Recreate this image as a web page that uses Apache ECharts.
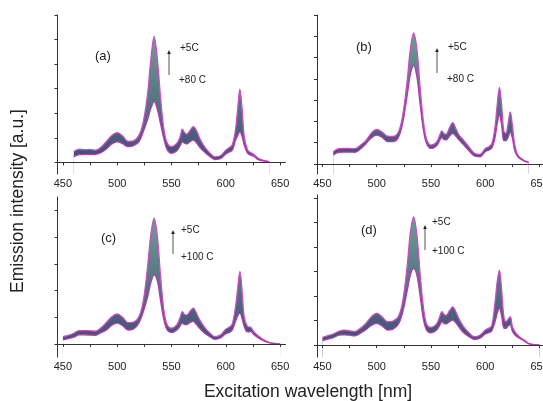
<!DOCTYPE html>
<html>
<head>
<meta charset="utf-8">
<script src="https://cdn.jsdelivr.net/npm/echarts@6/dist/echarts.min.js"></script>
<style>
  html, body { margin: 0; padding: 0; background: #fff; }
  #chart { width: 543px; height: 401px; }
</style>
</head>
<body>
<div id="chart"></div>
<script>
// wavelengths (nm) and envelope curves (5C = top, hottest = bottom), in tick units
var wlA = [460,465,470,475,480,485,490,495,500,505,510,515,520,524,528,531,534,537,540,543,546,550,555,558,560,562,564,567,570,573,576,580,585,590,595,600,603,606,609,611,613,615,617,620,623,626,630,635,640];
var topA = [0.44,0.54,0.52,0.53,0.50,0.62,0.85,1.10,1.21,1.08,0.86,0.88,1.10,1.65,2.8,4.2,5.13,4.2,2.6,1.35,0.80,0.64,0.78,1.05,1.35,1.22,1.15,1.30,1.46,1.30,0.98,0.66,0.40,0.23,0.27,0.50,0.60,0.72,1.35,2.2,2.98,2.2,1.05,0.52,0.40,0.32,0.17,0.08,0.03];
var botA = [0.23,0.32,0.33,0.33,0.33,0.40,0.55,0.75,0.84,0.76,0.64,0.68,0.84,1.25,1.75,2.2,2.48,2.15,1.55,0.95,0.52,0.37,0.48,0.68,0.84,0.78,0.75,0.84,0.91,0.80,0.62,0.44,0.25,0.12,0.15,0.34,0.42,0.50,0.90,1.10,1.25,1.05,0.70,0.38,0.30,0.24,0.11,0.05,0.01];

var wlB = [460,465,470,475,480,485,490,495,500,505,510,515,520,524,528,531,534,537,540,543,546,550,555,558,560,562,564,567,570,573,576,580,585,590,595,600,603,606,609,611,613,615,617,619,621,623,625,627,630,635,640];
var topB = [0.58,0.72,0.73,0.73,0.72,0.88,1.10,1.45,1.62,1.50,1.31,1.30,1.50,2.3,3.9,5.4,6.16,5.4,3.6,2.0,1.15,0.89,1.02,1.35,1.56,1.42,1.40,1.70,1.94,1.65,1.35,1.12,0.80,0.50,0.45,0.73,0.80,0.95,1.75,2.8,3.6,2.8,1.55,1.45,1.9,2.45,1.8,0.95,0.42,0.19,0.08];
var botB = [0.42,0.55,0.56,0.56,0.55,0.70,0.95,1.22,1.36,1.25,1.05,1.05,1.25,1.95,3.2,4.2,4.64,4.1,2.8,1.6,0.95,0.73,0.85,1.10,1.25,1.15,1.14,1.30,1.44,1.30,1.12,0.90,0.62,0.375,0.34,0.58,0.65,0.75,1.25,1.9,2.3,1.85,1.10,1.10,1.25,1.50,1.20,0.65,0.34,0.16,0.06];

var wlC = [450,455,460,465,470,475,480,485,490,495,500,505,510,515,520,524,528,531,534,537,540,543,546,550,555,558,560,562,564,567,570,573,576,580,585,590,595,600,603,606,609,611,613,615,617,620,623,626,630,635,640,645,650];
var topC = [0.27,0.32,0.40,0.50,0.50,0.49,0.48,0.60,0.80,1.02,1.12,1.00,0.80,0.82,1.02,1.60,2.9,4.1,4.71,4.0,2.5,1.25,0.72,0.59,0.72,1.00,1.21,1.10,1.08,1.22,1.34,1.15,0.90,0.65,0.42,0.27,0.33,0.55,0.62,0.75,1.40,2.1,2.71,2.0,1.00,0.65,0.62,0.45,0.30,0.15,0.06,0.02,0.0];
var botC = [0.15,0.20,0.25,0.34,0.34,0.33,0.32,0.42,0.52,0.70,0.78,0.68,0.52,0.56,0.78,1.20,1.75,2.3,2.59,2.35,1.6,0.90,0.52,0.42,0.52,0.68,0.78,0.72,0.72,0.80,0.84,0.72,0.58,0.42,0.28,0.17,0.22,0.38,0.42,0.52,0.85,1.05,1.15,0.95,0.65,0.45,0.46,0.34,0.22,0.11,0.04,0.01,-0.01];

var wlD = [450,455,460,465,470,475,480,485,490,495,500,505,510,515,520,524,528,531,534,537,540,543,546,550,555,558,560,562,564,567,570,573,576,580,585,590,595,600,603,606,609,611,613,615,617,619,621,623,625,628,632,636,640,645,650];
var topD = [0.31,0.38,0.45,0.56,0.61,0.58,0.55,0.68,0.88,1.15,1.29,1.15,0.95,0.98,1.16,1.80,3.2,4.6,5.24,4.5,2.9,1.55,0.85,0.72,0.85,1.15,1.36,1.25,1.22,1.40,1.56,1.35,1.05,0.75,0.50,0.34,0.40,0.61,0.68,0.80,1.75,2.6,3.06,2.3,1.20,0.95,1.05,1.16,0.75,0.50,0.32,0.20,0.07,0.02,0.0];
var botD = [0.18,0.24,0.30,0.40,0.42,0.40,0.37,0.48,0.62,0.80,0.88,0.78,0.61,0.65,0.85,1.35,2.2,2.85,3.13,2.85,2.0,1.05,0.60,0.50,0.60,0.80,0.95,0.88,0.86,0.95,1.02,0.90,0.72,0.50,0.34,0.23,0.28,0.45,0.50,0.58,0.95,1.30,1.50,1.20,0.70,0.68,0.78,0.82,0.55,0.38,0.26,0.16,0.05,0.01,-0.01];

var xLabels = [450, 500, 550, 600, 650];
var xTicks = [450, 475, 500, 525, 550, 575, 600, 625, 650];
var yTicksA = [0, 1, 2, 3, 4, 5, 6];
var yTicksB = [0, 1, 2, 3, 4, 5, 6, 7];
var yTicksC = [0, 1, 2, 3, 4, 5];
var yTicksD = [0, 1, 2, 3, 4, 5, 6];

var panels = [
  { wl: wlA, top: topA, bot: botA, ticks: yTicksA, min: -0.47, max: 6,    grid: { left: 57.5, top: 15,  width: 228, height: 159 } },
  { wl: wlB, top: topB, bot: botB, ticks: yTicksB, min: -0.47, max: 7,    grid: { left: 317,  top: 15,  width: 228, height: 159 } },
  { wl: wlC, top: topC, bot: botC, ticks: yTicksC, min: -0.49, max: 5.5,  grid: { left: 57.5, top: 197, width: 228, height: 160 } },
  { wl: wlD, top: topD, bot: botD, ticks: yTicksD, min: -0.49, max: 6.13, grid: { left: 317,  top: 195, width: 228, height: 162 } }
];

var bandFill = new echarts.graphic.LinearGradient(0, 0, 0, 1, [
  { offset: 0, color: "#6f9c90" },
  { offset: 0.45, color: "#587683" },
  { offset: 1, color: "#3c4574" }
]);

var grids = [], xAxes = [], yAxes = [], series = [];
panels.forEach(function (p, i) {
  var g = Object.assign({ containLabel: false, outerBoundsMode: "none" }, p.grid);
  grids.push(g);
  xAxes.push({
    type: "value", gridIndex: i, min: 445, max: 655, z: 10,
    axisLine: { lineStyle: { color: "#333", width: 1 } },
    axisTick: { show: true, inside: false, length: 3, customValues: xTicks, lineStyle: { color: "#333" } },
    axisLabel: { customValues: xLabels, color: "#222", fontSize: 11, margin: 4, fontFamily: "Liberation Sans" },
    splitLine: { show: false }
  });
  yAxes.push({
    type: "value", gridIndex: i, min: p.min, max: p.max, z: 10,
    axisLine: { show: true, lineStyle: { color: "#333", width: 1 } },
    axisTick: { show: true, inside: false, length: 3, customValues: p.ticks, lineStyle: { color: "#333" } },
    axisLabel: { show: false },
    splitLine: { show: false }
  });
  // top curve filled down, then bottom curve filled white so only the band remains
  series.push({
    type: "line", xAxisIndex: i, yAxisIndex: i, z: 2,
    data: p.wl.map(function (w, k) { return [w, p.top[k]]; }),
    smooth: 0.35, showSymbol: false, silent: true,
    lineStyle: { color: "#c84ec9", width: 1.3 },
    areaStyle: { color: bandFill, opacity: 1, origin: "start" }
  });
  series.push({
    type: "line", xAxisIndex: i, yAxisIndex: i, z: 3,
    data: p.wl.map(function (w, k) { return [w, p.bot[k]]; }),
    smooth: 0.35, showSymbol: false, silent: true,
    lineStyle: { color: "#b03fa6", width: 1.3 },
    areaStyle: { color: "#ffffff", opacity: 1, origin: "start" }
  });
});

function label(x, y, text, size) {
  return { type: "text", left: x, top: y, z: 20, style: { text: text, fill: "#222", font: size + "px 'Liberation Sans'" } };
}
function arrow(x, y1, y2) {
  return [
    { type: "line", z: 20, shape: { x1: x, y1: y1, x2: x, y2: y2 + 3 }, style: { stroke: "#555", lineWidth: 1 } },
    { type: "polygon", z: 20, shape: { points: [[x - 1.8, y2 + 4], [x + 1.8, y2 + 4], [x, y2]] }, style: { fill: "#222" } }
  ];
}

var graphics = [
  label(95, 50, "(a)", 13), label(180, 43, "+5C", 10), label(179, 75, "+80 C", 10),
  label(356, 41, "(b)", 13), label(448, 42, "+5C", 10), label(447, 74, "+80 C", 10),
  label(101, 232, "(c)", 13), label(181, 225, "+5C", 10), label(181, 252, "+100 C", 10),
  label(361, 224, "(d)", 13), label(432, 217, "+5C", 10), label(432, 246, "+100 C", 10),
  {
    type: "text", x: 18, y: 201, rotation: Math.PI / 2, z: 20,
    style: { text: "Emission intensity [a.u.]", fill: "#222", font: "17.5px 'Liberation Sans'", textAlign: "center", textVerticalAlign: "middle" }
  },
  {
    type: "text", x: 308, y: 392, z: 20,
    style: { text: "Excitation wavelength [nm]", fill: "#222", font: "17.5px 'Liberation Sans'", textAlign: "center", textVerticalAlign: "middle" }
  }
];
graphics = graphics.concat(arrow(169, 75, 50), arrow(437, 73, 48), arrow(173, 254, 230), arrow(425, 250, 225));

var chart = echarts.init(document.getElementById("chart"), null, { renderer: "canvas" });
chart.setOption({
  backgroundColor: "#fff",
  animation: false,
  grid: grids,
  xAxis: xAxes,
  yAxis: yAxes,
  series: series,
  graphic: graphics
});
</script>
</body>
</html>
